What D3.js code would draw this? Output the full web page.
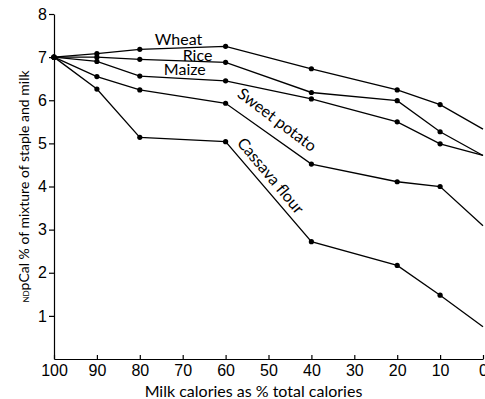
<!DOCTYPE html>
<html>
<head>
<meta charset="utf-8">
<script src="https://cdn.jsdelivr.net/npm/d3@7"></script>
<style>
  body { margin: 0; background: #fff; }
  svg { display: block; font-family: Lato, "Open Sans", sans-serif; }
  .axis path, .axis line { stroke: #000; stroke-width: 1.2; }
  .line { fill: none; stroke: #000; stroke-width: 1.3; }
</style>
</head>
<body>
<div id="chart"></div>
<script>
// milk calories as % of total calories
var milkPct = [100, 90, 80, 60, 40, 20, 10, 0];

// NDpCal % of the mixture
var wheat = [7.0, 7.08, 7.18, 7.25, 6.73, 6.24, 5.9, 5.33];
var rice = [7.0, 7.0, 6.95, 6.88, 6.18, 5.99, 5.27, 4.72];
var maize = [7.0, 6.9, 6.56, 6.45, 6.03, 5.5, 4.99, 4.72];
var sweetPotato = [7.0, 6.55, 6.24, 5.93, 4.52, 4.11, 4.0, 3.09];
var cassava = [7.0, 6.26, 5.14, 5.04, 2.72, 2.17, 1.48, 0.75];

var xTicks = [100, 90, 80, 70, 60, 50, 40, 30, 20, 10, 0];
var yTicks = [1, 2, 3, 4, 5, 6, 7, 8];

var series = [
	{ name: "Wheat", values: wheat },
	{ name: "Rice", values: rice },
	{ name: "Maize", values: maize },
	{ name: "Sweet potato", values: sweetPotato },
	{ name: "Cassava flour", values: cassava }
];

var W = 485, H = 399;
var margin = { top: 14, right: 2, bottom: 40, left: 54 };

var svg = d3.select("#chart").append("svg")
	.attr("width", W)
	.attr("height", H);

var x = d3.scaleLinear().domain([100, 0]).range([margin.left, W - margin.right]);
var y = d3.scaleLinear().domain([0, 8]).range([H - margin.bottom, margin.top]);

// axes
var xAxis = svg.append("g")
	.attr("class", "axis")
	.attr("transform", "translate(0," + y(0) + ")")
	.call(d3.axisBottom(x).tickValues(xTicks).tickSizeInner(-4).tickSizeOuter(0).tickPadding(6));
xAxis.selectAll("text").style("font-size", "16px").attr("fill", "#000");

var yAxis = svg.append("g")
	.attr("class", "axis")
	.attr("transform", "translate(" + x(100) + ",0)")
	.call(d3.axisLeft(y).tickValues(yTicks).tickSizeInner(5).tickSizeOuter(0).tickPadding(2));
yAxis.selectAll("text").style("font-size", "16px").attr("fill", "#000");

// lines and points
var line = d3.line()
	.x(function(d, i) { return x(milkPct[i]); })
	.y(function(d) { return y(d); });

series.forEach(function(s) {
	svg.append("path")
		.datum(s.values)
		.attr("class", "line")
		.attr("d", line);

	svg.selectAll(null)
		.data(s.values.slice(0, milkPct.length - 1))
		.enter().append("circle")
		.attr("cx", function(d, i) { return x(milkPct[i]); })
		.attr("cy", function(d) { return y(d); })
		.attr("r", 2.6)
		.attr("fill", "#000");
});

// series labels
function label(txt, px, py, rot) {
	svg.append("text")
		.attr("transform", "translate(" + px + "," + py + ") rotate(" + rot + ")")
		.style("font-size", "16px")
		.text(txt);
}
label("Wheat", x(76.5), y(7.29), 0);
label("Rice", x(70), y(6.91), 0);
label("Maize", x(74.4), y(6.59), 0);
label("Sweet potato", x(57.5), y(6.1), 37);
label("Cassava flour", x(57.5), y(5.0), 50);

// axis titles
svg.append("text")
	.attr("x", x(53.5))
	.attr("y", H - 2)
	.attr("text-anchor", "middle")
	.style("font-size", "16px")
	.text("Milk calories as % total calories");

var yt = svg.append("text")
	.attr("transform", "translate(29," + y(4.0) + ") rotate(-90)")
	.attr("text-anchor", "middle")
	.style("font-size", "14px");
yt.append("tspan").style("font-size", "8px").text("ND");
yt.append("tspan").text("pCal % of mixture of staple and milk");
</script>
</body>
</html>
